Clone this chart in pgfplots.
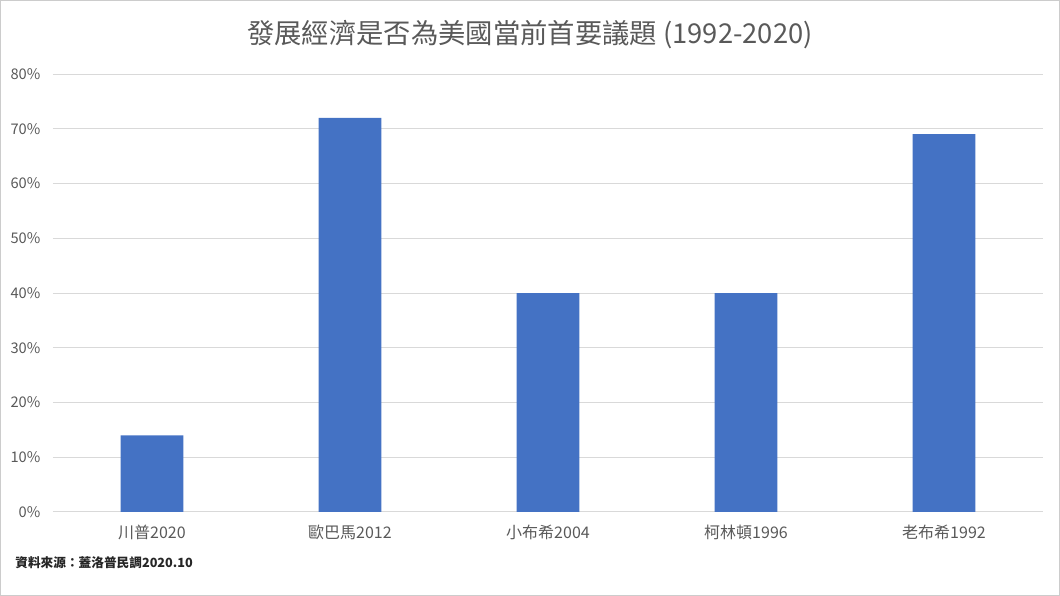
\documentclass[border=0pt]{standalone}
\usepackage{fontspec}
\usepackage{pgfplots}
\pgfplotsset{compat=1.18}
\setmainfont{Noto Sans CJK TC}
\definecolor{barblue}{HTML}{4472C4}
\definecolor{txtgray}{HTML}{595959}
\definecolor{gridgray}{HTML}{D9D9D9}
\begin{document}
\begin{tikzpicture}
  % axis box: 990x438 px at 0.75pt per px; the picture is 1060x596 px
  \begin{axis}[
      name=ax,
      anchor=south west,
      scale only axis,
      width=742.5pt, height=328.5pt,
      xmin=-0.5, xmax=4.5,
      ymin=0, ymax=80,
      ybar, bar width=47pt,
      xtick=data,
      xticklabels={川普2020, 歐巴馬2012, 小布希2004, 柯林頓1996, 老布希1992},
      ytick={0,10,...,80},
      yticklabel={\pgfmathprintnumber{\tick}\%},
      /pgf/number format/assume math mode=true,
      ymajorgrids,
      grid style={gridgray, line width=0.75pt},
      axis line style={draw=none},
      axis x line*=bottom,
      x axis line style={draw=gridgray, line width=0.75pt},
      major tick length=0pt,
      yticklabel style={font=\fontsize{11}{13}\selectfont, text=txtgray, xshift=-6pt},
      xticklabel style={font=\fontsize{12}{14}\selectfont, text=txtgray, yshift=-6pt},
    ]
    \addplot[fill=barblue, draw=none] coordinates {(0,14) (1,72) (2,40) (3,40) (4,69)};
  \end{axis}
  \begin{scope}[shift={(ax.south west)}, x=1pt, y=1pt]
    \useasboundingbox (-39.75,-63) rectangle (755.25,384);
    \draw[gray!40, line width=0.8pt] (-39.35,-62.6) rectangle (754.85,383.6);
    \node[text=txtgray, font=\fontsize{20.5}{24}\selectfont] at (357.75,357.75)
      {發展經濟是否為美國當前首要議題 (1992-2020)};
    \node[anchor=west, text=black!85, font=\fontsize{9.5}{11}\selectfont\bfseries] at (-31.75,-38.25)
      {資料來源：蓋洛普民調2020.10};
  \end{scope}
\end{tikzpicture}
\end{document}
